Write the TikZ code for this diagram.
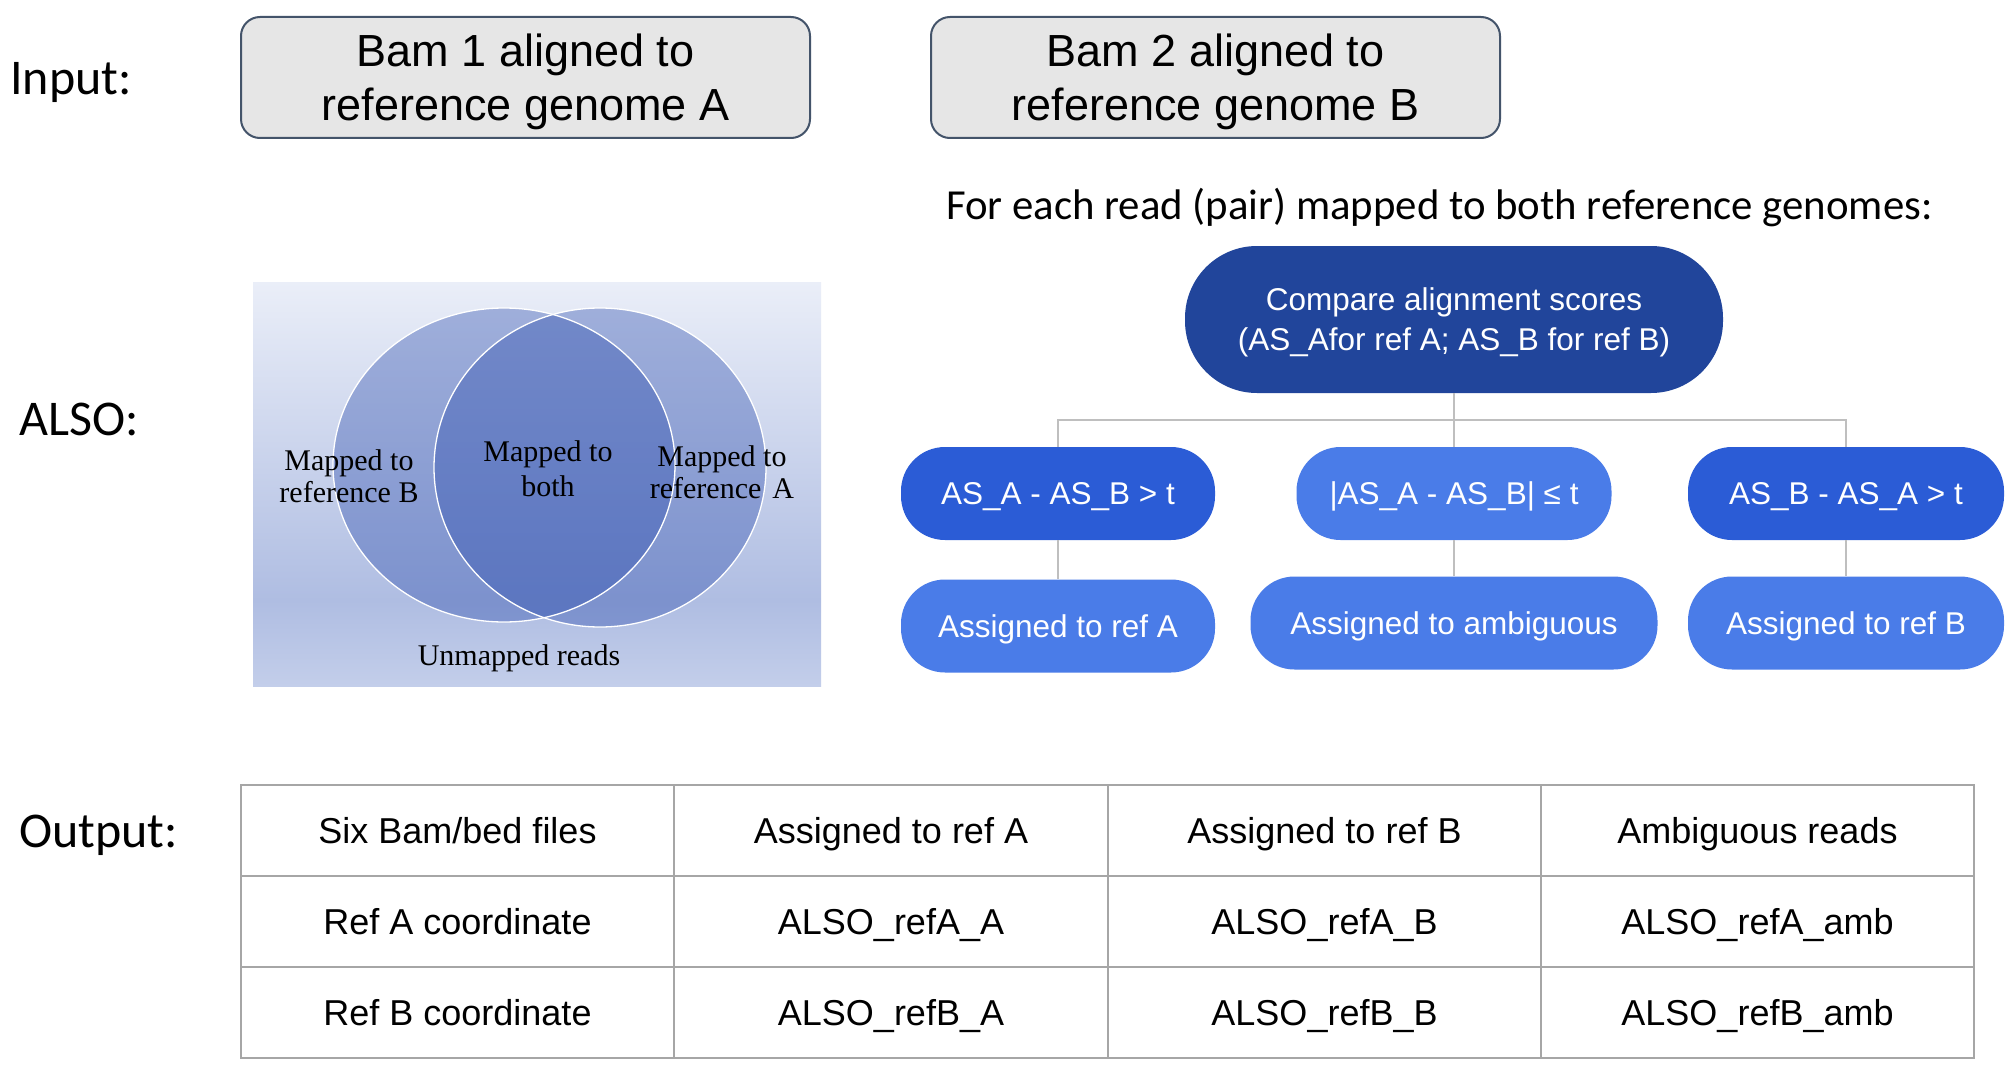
\documentclass[tikz,border=0pt]{standalone}
\usepackage{fontspec}
\setmainfont{Liberation Sans}
\newfontfamily\calib{Carlito}
\newfontfamily\tnr{Liberation Serif}
\definecolor{bamfill}{HTML}{E6E6E6}
\definecolor{bamdraw}{HTML}{44546A}
\definecolor{cmpblue}{HTML}{21459B}
\definecolor{midblue}{HTML}{2B5CD6}
\definecolor{litblue}{HTML}{4A7CE8}
\definecolor{conngray}{HTML}{BFBFBF}
\definecolor{tblgray}{HTML}{A6A6A6}
\definecolor{vennell}{RGB}{38,72,171}
\definecolor{vbA}{HTML}{C3CEEA}
\definecolor{vbB}{HTML}{AFBDE2}
\definecolor{vbC}{HTML}{EAEEF8}
\pgfdeclareverticalshading{vennbg}{100bp}{color(0bp)=(vbA); color(25bp)=(vbA); color(35.6bp)=(vbB); color(75bp)=(vbC); color(100bp)=(vbC)}
\tikzset{
  sidelabel/.style={anchor=west, inner sep=0pt, text height=32.2pt, text depth=0pt,
    font=\calib\fontsize{50}{60}\selectfont},
  bambox/.style={draw=bamdraw, line width=2pt, fill=bamfill, rounded corners=19pt,
    minimum width=569pt, minimum height=121pt, inner sep=0pt, align=center,
    text height=86.2pt, text depth=0pt,
    font=\fontsize{45}{54}\selectfont},
  flowbox/.style={inner sep=0pt, align=center, text=white,
    text height=22.6pt, text depth=0pt,
    font=\fontsize{31.5}{40}\selectfont},
  lvlone/.style={flowbox, fill=midblue, rounded corners=44pt, minimum height=93pt},
  lvllite/.style={flowbox, fill=litblue, rounded corners=44pt, minimum height=93pt},
  conn/.style={draw=conngray, line width=2.2pt},
  tbl/.style={draw=tblgray, line width=2.4pt},
  cell/.style={inner sep=0pt, text height=25.8pt, text depth=0pt,
    font=\fontsize{36}{43}\selectfont},
  venntext/.style={inner sep=0pt, align=center, font=\tnr\fontsize{30}{32}\selectfont},
}
\begin{document}
\begin{tikzpicture}[x=1pt,y=-1pt]
\useasboundingbox[fill=white] (0,0) rectangle (2010,1070);

% side labels
\node[sidelabel] (lin) at (10,78) {Input:};
\node[sidelabel] (lalso) at (19,419) {ALSO:};
\node[sidelabel] (lout) at (19,831) {Output:};

% input boxes
\node[bambox] (bam1) at (525.5,77.5) {Bam 1 aligned to\\reference genome A};
\node[bambox] (bam2) at (1215.5,77.5) {Bam 2 aligned to\\reference genome B};

% caption
\node[anchor=west, inner sep=0pt, text height=27.6pt, text depth=0pt,
  font=\calib\fontsize{42.8}{50}\selectfont] (cap) at (946,205.5)
  {For each read (pair) mapped to both reference genomes:};

% flowchart
\node[flowbox, fill=cmpblue, rounded corners=72pt, minimum width=538pt, minimum height=147pt,
  text height=62.6pt] (cmp) at (1454,319.5)
  {Compare alignment scores\\(AS\_Afor ref A; AS\_B for ref B)};
\node[lvlone, minimum width=314pt] (c1) at (1058,493.5) {AS\_A - AS\_B > t};
\node[lvllite, minimum width=315pt] (c2) at (1454,493.5) {|AS\_A - AS\_B| ≤ t};
\node[lvlone, minimum width=316pt] (c3) at (1846,493.5) {AS\_B - AS\_A > t};
\node[lvllite, minimum width=314pt] (r1) at (1058,626) {Assigned to ref A};
\node[lvllite, minimum width=407pt] (r2) at (1454,623) {Assigned to ambiguous};
\node[lvllite, minimum width=316pt] (r3) at (1846,623) {Assigned to ref B};

\coordinate (j) at (1454,420);
\draw[conn] (cmp.south) -- (j);
\draw[conn] (c1.north) |- (j) -| (c3.north);
\draw[conn] (j) -- (c2.north);
\draw[conn] (c1.south) -- (r1.north);
\draw[conn] (c2.south) -- (r2.north);
\draw[conn] (c3.south) -- (r3.north);

% Venn diagram
\shade[shading=vennbg] (253,282) rectangle (821,686);
\fill[vennell, fill opacity=0.364] (504,465) ellipse [x radius=171, y radius=157];
\fill[vennell, fill opacity=0.364] (600,467.5) ellipse [x radius=166, y radius=159.5];
\draw[white, line width=1.3pt] (504,465) ellipse [x radius=171, y radius=157];
\draw[white, line width=1.3pt] (600,467.5) ellipse [x radius=166, y radius=159.5];
\node[venntext] (vb) at (349,476) {Mapped to\\reference B};
\node[venntext, font=\tnr\fontsize{30}{35}\selectfont] (vboth) at (548,469) {Mapped to\\both};
\node[venntext] (va) at (722,472) {Mapped to\\reference\hspace{0.12em} A};
\node[venntext] (vun) at (519,658) {Unmapped reads};

% output table
\draw[tbl] (241,785) rectangle (1974,1058);
\draw[tbl] (241,876) -- (1974,876);
\draw[tbl] (241,967) -- (1974,967);
\draw[tbl] (674,785) -- (674,1058);
\draw[tbl] (1108,785) -- (1108,1058);
\draw[tbl] (1541,785) -- (1541,1058);

\node[cell] (t11) at (457.5,831) {Six Bam/bed files};
\node[cell] (t12) at (891,831) {Assigned to ref A};
\node[cell] (t13) at (1324.5,831) {Assigned to ref B};
\node[cell] (t14) at (1757.5,831) {Ambiguous reads};
\node[cell] (t21) at (457.5,922) {Ref A coordinate};
\node[cell] (t22) at (891,922) {ALSO\_refA\_A};
\node[cell] (t23) at (1324.5,922) {ALSO\_refA\_B};
\node[cell] (t24) at (1757.5,922) {ALSO\_refA\_amb};
\node[cell] (t31) at (457.5,1013) {Ref B coordinate};
\node[cell] (t32) at (891,1013) {ALSO\_refB\_A};
\node[cell] (t33) at (1324.5,1013) {ALSO\_refB\_B};
\node[cell] (t34) at (1757.5,1013) {ALSO\_refB\_amb};
\end{tikzpicture}
\end{document}
